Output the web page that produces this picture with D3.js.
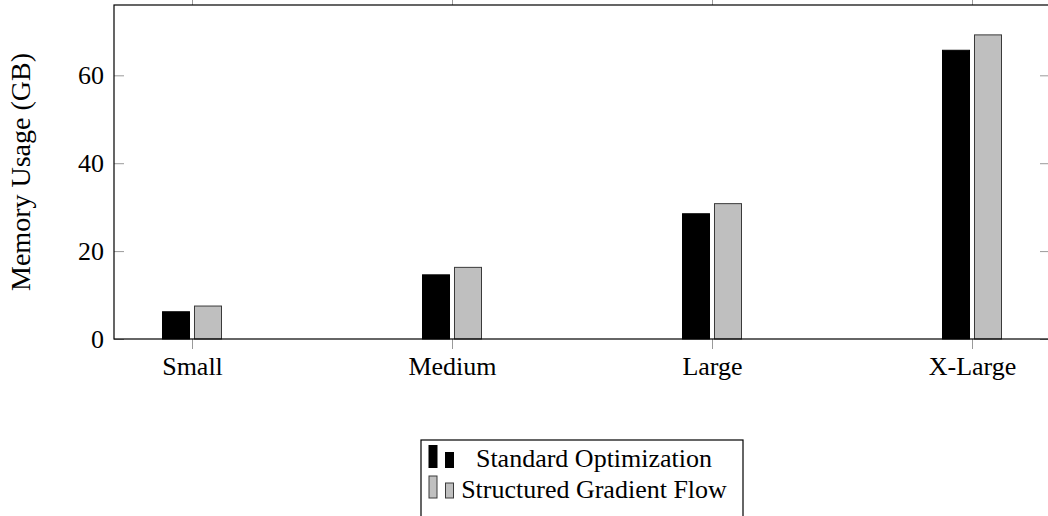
<!DOCTYPE html>
<html>
<head>
<meta charset="utf-8">
<script src="https://cdn.jsdelivr.net/npm/d3@7"></script>
<style>
  body { margin: 0; background: #fff; }
  svg text { font-family: "Liberation Serif", "Tinos", "Times New Roman", "DejaVu Serif" !important; }
</style>
</head>
<body>
<svg id="chart" width="1048" height="516"></svg>
<script>
const categories = ["Small", "Medium", "Large", "X-Large"]
const seriesNames = ["Standard Optimization", "Structured Gradient Flow"]
const standardValues = [6.2, 14.6, 28.5, 65.7]
const structuredValues = [7.5, 16.3, 30.8, 69.2]
const yTicks = [0, 20, 40, 60]

const colors = { "Standard Optimization": "#000", "Structured Gradient Flow": "#bfbfbf" }
const strokes = { "Standard Optimization": "#000", "Structured Gradient Flow": "#3a3a3a" }

var svg = d3.select("#chart")
var margin = { top: 5, right: -2, bottom: 177, left: 114 }
var width = +svg.attr("width") - margin.left - margin.right
var height = +svg.attr("height") - margin.top - margin.bottom

var data = categories.map(function(c, i) {
  return { category: c, values: [
    { name: seriesNames[0], value: standardValues[i] },
    { name: seriesNames[1], value: structuredValues[i] }
  ] }
})

var x = d3.scalePoint().domain(categories).range([0, width]).padding(0.3)
var xSub = d3.scaleBand().domain(seriesNames).range([-29.5, 29.5]).paddingInner(0.156)
var y = d3.scaleLinear().domain([0, 76]).range([height, 0])

var g = svg.append("g").attr("transform", "translate(" + margin.left + "," + margin.top + ")")

// bars
var groups = g.selectAll(".cat")
  .data(data)
  .enter().append("g")
  .attr("class", "cat")
  .attr("transform", function(d) { return "translate(" + x(d.category) + ",0)" })

groups.selectAll("rect")
  .data(function(d) { return d.values })
  .enter().append("rect")
  .attr("x", function(d) { return xSub(d.name) })
  .attr("width", xSub.bandwidth())
  .attr("y", function(d) { return y(d.value) })
  .attr("height", function(d) { return height - y(d.value) })
  .attr("fill", function(d) { return colors[d.name] })
  .attr("stroke", function(d) { return strokes[d.name] })
  .attr("stroke-width", 1)

// y ticks, inside on both sides
var yAxisL = g.append("g").call(d3.axisRight(y).tickValues(yTicks).tickSize(10).tickFormat(""))
var yAxisR = g.append("g").attr("transform", "translate(" + width + ",0)")
  .call(d3.axisLeft(y).tickValues(yTicks).tickSize(10).tickFormat(""))
;[yAxisL, yAxisR].forEach(function(a) {
  a.select(".domain").remove()
  a.selectAll("line").attr("stroke", "#9a9a9a")
})

g.selectAll(".ylab")
  .data(yTicks)
  .enter().append("text")
  .attr("class", "ylab")
  .attr("x", -10)
  .attr("y", function(d) { return y(d) })
  .attr("dy", "0.35em")
  .attr("text-anchor", "end")
  .attr("font-size", 26)
  .text(function(d) { return d })

// x ticks, outside on top and bottom
var xAxisB = g.append("g").attr("transform", "translate(0," + height + ")")
  .call(d3.axisBottom(x).tickSize(10).tickPadding(8))
var xAxisT = g.append("g").call(d3.axisTop(x).tickSize(10).tickFormat(""))
;[xAxisB, xAxisT].forEach(function(a) {
  a.select(".domain").remove()
  a.selectAll("line").attr("stroke", "#9a9a9a")
})
xAxisB.selectAll("text")
  .attr("font-size", 26)
  .attr("fill", "#000")
  .attr("dy", "0.71em")

// frame
g.append("rect")
  .attr("x", 0).attr("y", 0)
  .attr("width", width).attr("height", height)
  .attr("fill", "none")
  .attr("stroke", "#000")
  .attr("stroke-width", 1.2)

// y axis label
svg.append("text")
  .attr("transform", "translate(30," + (margin.top + height / 2) + ") rotate(-90)")
  .attr("text-anchor", "middle")
  .attr("font-size", 28)
  .text("Memory Usage (GB)")

// legend
var legend = svg.append("g").attr("transform", "translate(421,440)")
legend.append("rect")
  .attr("width", 322).attr("height", 100)
  .attr("fill", "#fff").attr("stroke", "#000").attr("stroke-width", 1.2)

var rows = legend.selectAll(".row")
  .data(seriesNames)
  .enter().append("g")
  .attr("class", "row")
  .attr("transform", function(d, i) { return "translate(0," + (i * 30.5) + ")" })

rows.append("rect")
  .attr("x", 8).attr("y", 5.5).attr("width", 8).attr("height", 22)
  .attr("fill", function(d) { return colors[d] })
  .attr("stroke", function(d) { return strokes[d] })
rows.append("rect")
  .attr("x", 24.5).attr("y", 12.5).attr("width", 8).attr("height", 15)
  .attr("fill", function(d) { return colors[d] })
  .attr("stroke", function(d) { return strokes[d] })
rows.append("text")
  .attr("x", 173)
  .attr("y", 27)
  .attr("text-anchor", "middle")
  .attr("font-size", 26)
  .text(function(d) { return d })
</script>
</body>
</html>
